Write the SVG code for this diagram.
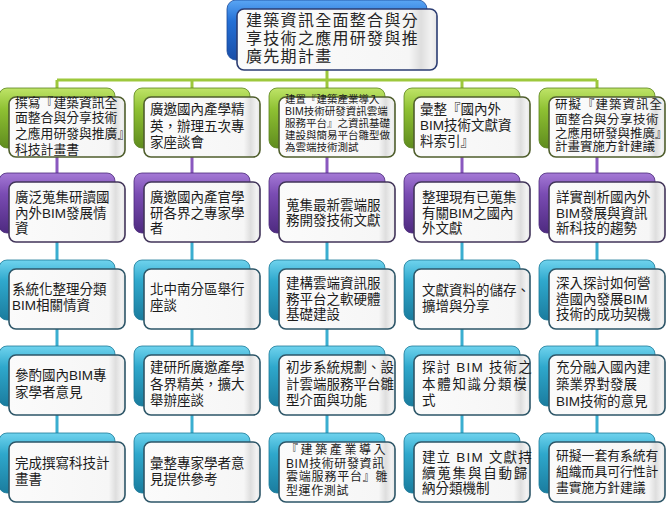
<svg xmlns="http://www.w3.org/2000/svg" width="666" height="506" viewBox="0 0 666 506">
<style>
.t{font-family:"Liberation Sans","Noto Sans CJK TC","Noto Sans CJK SC",sans-serif;font-size:13.5px;fill:#1c1c1c}
.s105{font-size:10.5px}
.s12{font-size:12px}
.s125{font-size:12.5px}
.s128{font-size:12.8px}
.rt{font-size:16px;fill:#262626;letter-spacing:1.3px}
.face{fill:url(#face);stroke-width:1.6}
.l0{stroke:#2b3c72}
.l1{stroke:#4f5e2c}
.l2{stroke:#42355a}
.l3{stroke:#2d5668}
.bk0{fill:url(#gBlue);stroke:#1a4a9a;stroke-width:0.8}
.bk1{fill:url(#gGreen);stroke:#5a8420;stroke-width:0.8}
.bk2{fill:url(#gPurple);stroke:#4a2a78;stroke-width:0.8}
.bk3{fill:url(#gTeal);stroke:#1c7a98;stroke-width:0.8}
.c{fill:none;stroke-width:3}
.cg{stroke:#9dc83c}
.cp{stroke:#8a58bf}
.ct{stroke:#3aaed0}
</style>
<defs>
<linearGradient id="face" x1="0" y1="0" x2="1" y2="0">
<stop offset="0" stop-color="#fbfbfb"/>
<stop offset="0.86" stop-color="#f6f6f6"/>
<stop offset="0.92" stop-color="#dedede"/>
<stop offset="0.97" stop-color="#f2f2f2"/>
<stop offset="1" stop-color="#e6e6e6"/>
</linearGradient>
<linearGradient id="gGreen" x1="0" y1="0" x2="0" y2="1">
<stop offset="0" stop-color="#bfe468"/>
<stop offset="0.35" stop-color="#8fc133"/>
<stop offset="1" stop-color="#5f8c1e"/>
</linearGradient>
<linearGradient id="gPurple" x1="0" y1="0" x2="0" y2="1">
<stop offset="0" stop-color="#a57ad6"/>
<stop offset="0.35" stop-color="#7a4cb3"/>
<stop offset="1" stop-color="#4e2a80"/>
</linearGradient>
<linearGradient id="gTeal" x1="0" y1="0" x2="0" y2="1">
<stop offset="0" stop-color="#6fd3ee"/>
<stop offset="0.35" stop-color="#2fa8cc"/>
<stop offset="1" stop-color="#1a7c9e"/>
</linearGradient>
<linearGradient id="gBlue" x1="0" y1="0" x2="0" y2="1">
<stop offset="0" stop-color="#5aa6f4"/>
<stop offset="0.35" stop-color="#2470d6"/>
<stop offset="1" stop-color="#1a4ea8"/>
</linearGradient>
</defs>

<g id="connectors">
<path class="c cg" d="M327 66V80M57 80H597M57 80V92M192 80V92M327 80V92M462 80V92M597 80V92"/>
<path class="c cp" d="M57 154V176M192 154V176M327 154V176M462 154V176M597 154V176"/>
<path class="c ct" d="M57 240V263M192 240V263M327 240V263M462 240V263M597 240V263"/>
<path class="c ct" d="M57 326V349M192 326V349M327 326V349M462 326V349M597 326V349"/>
<path class="c ct" d="M57 412V436M192 412V436M327 412V436M462 412V436M597 412V436"/>
</g>

<g id="root">
<rect class="bk0" x="227" y="0" width="200" height="60" rx="9"/>
<rect class="face l0" x="237" y="9" width="200" height="61" rx="7"/>
<text class="t rt"><tspan x="246" y="25.5">建築資訊全面整合與分</tspan><tspan x="246" y="43.5">享技術之應用研發與推</tspan><tspan x="246" y="61.5">廣先期計畫</tspan></text>
</g>

<g id="n1-1">
<rect class="bk1" x="-1" y="88" width="116" height="60" rx="8"/>
<rect class="face l1" x="9" y="97" width="116" height="60" rx="7"/>
<text class="t s128"><tspan x="15" y="106.7">撰寫『建築資訊全</tspan><tspan x="15" y="122.2">面整合與分享技術</tspan><tspan x="15" y="137.7">之應用研發與推廣』</tspan><tspan x="15" y="153.7">科技計畫書</tspan></text>
</g>
<g id="n1-2">
<rect class="bk1" x="134" y="88" width="116" height="60" rx="8"/>
<rect class="face l1" x="144" y="97" width="116" height="60" rx="7"/>
<text class="t"><tspan x="150" y="114">廣邀國內產學精</tspan><tspan x="150" y="130.5">英，辦理五次專</tspan><tspan x="150" y="147">家座談會</tspan></text>
</g>
<g id="n1-3">
<rect class="bk1" x="269" y="88" width="116" height="60" rx="8"/>
<rect class="face l1" x="279" y="97" width="116" height="60" rx="7"/>
<text class="t s105"><tspan x="285" y="103.4">建置『建築產業導入</tspan><tspan x="285" y="115.4">BIM技術研發資訊雲端</tspan><tspan x="285" y="127.4">服務平台』之資訊基礎</tspan><tspan x="285" y="139.4">建設與簡易平台雛型做</tspan><tspan x="285" y="151.4">為雲端技術測試</tspan></text>
</g>
<g id="n1-4">
<rect class="bk1" x="404" y="88" width="116" height="60" rx="8"/>
<rect class="face l1" x="414" y="97" width="116" height="60" rx="7"/>
<text class="t"><tspan x="420" y="114">彙整『國內外</tspan><tspan x="420" y="130">BIM技術文獻資</tspan><tspan x="420" y="146">料索引』</tspan></text>
</g>
<g id="n1-5">
<rect class="bk1" x="539" y="88" width="116" height="60" rx="8"/>
<rect class="face l1" x="549" y="97" width="116" height="60" rx="7"/>
<text class="t s125"><tspan x="555" y="108.6" letter-spacing="1">研擬『建築資訊全</tspan><tspan x="555" y="123.6" letter-spacing="0.5">面整合與分享技術</tspan><tspan x="555" y="137.6">之應用研發與推廣』</tspan><tspan x="555" y="150.6">計畫實施方針建議</tspan></text>
</g>

<g id="n2-1">
<rect class="bk2" x="-1" y="173" width="116" height="60" rx="8"/>
<rect class="face l2" x="9" y="182" width="116" height="60" rx="7"/>
<text class="t"><tspan x="15" y="202">廣泛蒐集研讀國</tspan><tspan x="15" y="217.5">內外BIM發展情</tspan><tspan x="15" y="233">資</tspan></text>
</g>
<g id="n2-2">
<rect class="bk2" x="134" y="173" width="116" height="60" rx="8"/>
<rect class="face l2" x="144" y="182" width="116" height="60" rx="7"/>
<text class="t"><tspan x="150" y="202">廣邀國內產官學</tspan><tspan x="150" y="217.5">研各界之專家學</tspan><tspan x="150" y="233">者</tspan></text>
</g>
<g id="n2-3">
<rect class="bk2" x="269" y="173" width="116" height="60" rx="8"/>
<rect class="face l2" x="279" y="182" width="116" height="60" rx="7"/>
<text class="t"><tspan x="286" y="209.5">蒐集最新雲端服</tspan><tspan x="286" y="225">務開發技術文獻</tspan></text>
</g>
<g id="n2-4">
<rect class="bk2" x="404" y="173" width="116" height="60" rx="8"/>
<rect class="face l2" x="414" y="182" width="116" height="60" rx="7"/>
<text class="t"><tspan x="422" y="202">整理現有已蒐集</tspan><tspan x="422" y="217.5">有關BIM之國內</tspan><tspan x="422" y="233">外文獻</tspan></text>
</g>
<g id="n2-5">
<rect class="bk2" x="539" y="173" width="116" height="60" rx="8"/>
<rect class="face l2" x="549" y="182" width="116" height="60" rx="7"/>
<text class="t"><tspan x="556" y="202">詳實剖析國內外</tspan><tspan x="556" y="217.5">BIM發展與資訊</tspan><tspan x="556" y="233">新科技的趨勢</tspan></text>
</g>

<g id="n3-1">
<rect class="bk3" x="-1" y="260" width="116" height="60" rx="8"/>
<rect class="face l3" x="9" y="269" width="116" height="60" rx="7"/>
<text class="t"><tspan x="12" y="294">系統化整理分類</tspan><tspan x="12" y="310">BIM相關情資</tspan></text>
</g>
<g id="n3-2">
<rect class="bk3" x="134" y="260" width="116" height="60" rx="8"/>
<rect class="face l3" x="144" y="269" width="116" height="60" rx="7"/>
<text class="t"><tspan x="150" y="294">北中南分區舉行</tspan><tspan x="150" y="310">座談</tspan></text>
</g>
<g id="n3-3">
<rect class="bk3" x="269" y="260" width="116" height="60" rx="8"/>
<rect class="face l3" x="279" y="269" width="116" height="60" rx="7"/>
<text class="t"><tspan x="286" y="288">建構雲端資訊服</tspan><tspan x="286" y="304">務平台之軟硬體</tspan><tspan x="286" y="319">基礎建設</tspan></text>
</g>
<g id="n3-4">
<rect class="bk3" x="404" y="260" width="116" height="60" rx="8"/>
<rect class="face l3" x="414" y="269" width="116" height="60" rx="7"/>
<text class="t"><tspan x="422" y="295">文獻資料的儲存、</tspan><tspan x="422" y="311">擴增與分享</tspan></text>
</g>
<g id="n3-5">
<rect class="bk3" x="539" y="260" width="116" height="60" rx="8"/>
<rect class="face l3" x="549" y="269" width="116" height="60" rx="7"/>
<text class="t"><tspan x="556" y="288">深入探討如何營</tspan><tspan x="556" y="303.5">造國內發展BIM</tspan><tspan x="556" y="318.5">技術的成功契機</tspan></text>
</g>

<g id="n4-1">
<rect class="bk3" x="-1" y="346" width="116" height="60" rx="8"/>
<rect class="face l3" x="9" y="355" width="116" height="60" rx="7"/>
<text class="t"><tspan x="15" y="380">參酌國內BIM專</tspan><tspan x="15" y="397">家學者意見</tspan></text>
</g>
<g id="n4-2">
<rect class="bk3" x="134" y="346" width="116" height="60" rx="8"/>
<rect class="face l3" x="144" y="355" width="116" height="60" rx="7"/>
<text class="t"><tspan x="150" y="372">建研所廣邀產學</tspan><tspan x="150" y="388.5">各界精英，擴大</tspan><tspan x="150" y="405">舉辦座談</tspan></text>
</g>
<g id="n4-3">
<rect class="bk3" x="269" y="346" width="116" height="60" rx="8"/>
<rect class="face l3" x="279" y="355" width="116" height="60" rx="7"/>
<text class="t"><tspan x="286" y="372">初步系統規劃、設</tspan><tspan x="286" y="388.5">計雲端服務平台雛</tspan><tspan x="286" y="405">型介面與功能</tspan></text>
</g>
<g id="n4-4">
<rect class="bk3" x="404" y="346" width="116" height="60" rx="8"/>
<rect class="face l3" x="414" y="355" width="116" height="60" rx="7"/>
<text class="t"><tspan x="422" y="372" letter-spacing="1.2">探討 BIM 技術之</tspan><tspan x="422" y="388.5" letter-spacing="1.7">本體知識分類模</tspan><tspan x="422" y="405">式</tspan></text>
</g>
<g id="n4-5">
<rect class="bk3" x="539" y="346" width="116" height="60" rx="8"/>
<rect class="face l3" x="549" y="355" width="116" height="60" rx="7"/>
<text class="t"><tspan x="556" y="372">充分融入國內建</tspan><tspan x="556" y="389">築業界對發展</tspan><tspan x="556" y="406">BIM技術的意見</tspan></text>
</g>

<g id="n5-1">
<rect class="bk3" x="-1" y="433" width="116" height="60" rx="8"/>
<rect class="face l3" x="9" y="442" width="116" height="60" rx="7"/>
<text class="t"><tspan x="15" y="468">完成撰寫科技計</tspan><tspan x="15" y="483.5">畫書</tspan></text>
</g>
<g id="n5-2">
<rect class="bk3" x="134" y="433" width="116" height="60" rx="8"/>
<rect class="face l3" x="144" y="442" width="116" height="60" rx="7"/>
<text class="t"><tspan x="150" y="468">彙整專家學者意</tspan><tspan x="150" y="484">見提供參考</tspan></text>
</g>
<g id="n5-3">
<rect class="bk3" x="269" y="433" width="116" height="60" rx="8"/>
<rect class="face l3" x="279" y="442" width="116" height="60" rx="7"/>
<text class="t s12"><tspan x="286" y="454" letter-spacing="2.6">『建築產業導入</tspan><tspan x="286" y="467.5" letter-spacing="0.6">BIM技術研發資訊</tspan><tspan x="286" y="481" letter-spacing="0.8">雲端服務平台』雛</tspan><tspan x="286" y="494.5" letter-spacing="0.6">型運作測試</tspan></text>
</g>
<g id="n5-4">
<rect class="bk3" x="404" y="433" width="116" height="60" rx="8"/>
<rect class="face l3" x="414" y="442" width="116" height="60" rx="7"/>
<text class="t"><tspan x="422" y="462" letter-spacing="1.2">建立 BIM 文獻持</tspan><tspan x="422" y="477.5" letter-spacing="1.8">續蒐集與自動歸</tspan><tspan x="422" y="492.5">納分類機制</tspan></text>
</g>
<g id="n5-5">
<rect class="bk3" x="539" y="433" width="116" height="60" rx="8"/>
<rect class="face l3" x="549" y="442" width="116" height="60" rx="7"/>
<text class="t s128"><tspan x="556" y="459.7">研擬一套有系統有</tspan><tspan x="556" y="476.2">組織而具可行性計</tspan><tspan x="556" y="491.7">畫實施方針建議</tspan></text>
</g>
</svg>
